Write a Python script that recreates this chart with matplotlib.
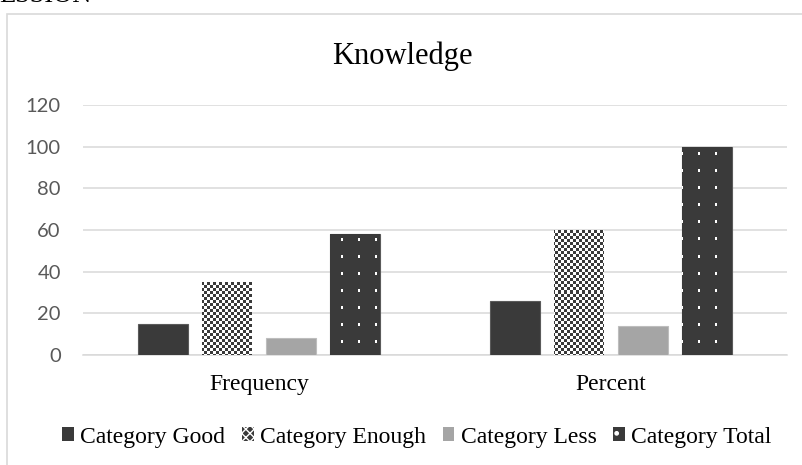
import numpy as np
import matplotlib
matplotlib.use("Agg")
import matplotlib.pyplot as plt
from matplotlib.patches import Rectangle

# ---- data ----
groups = ["Frequency", "Percent"]
series_names = ["Category Good", "Category Enough", "Category Less", "Category Total"]
good = [15, 26]
enough = [35, 60]
less = [8, 14]
total = [58, 100]
y_ticks = [0, 20, 40, 60, 80, 100, 120]

W, H, DPI = 803, 465, 100
DARK = "#3a3a3a"
LIGHT = "#a5a5a5"
GRID = "#d9d9d9"
SERIF = ["Liberation Serif", "DejaVu Serif"]

fig = plt.figure(figsize=(W / DPI, H / DPI), dpi=DPI)
fig.patch.set_facecolor("white")

# chart frame (runs off the right and bottom edges)
fig.patches.append(Rectangle((7 / W, -0.1), 1.2, 1.1 - 14 / H,
                             transform=fig.transFigure, fill=False,
                             edgecolor=GRID, linewidth=1.2))
# heading fragment above the chart
fig.text(-1 / W, 1 - 1.5 / H, "ESSION", family=SERIF, fontsize=19,
         ha="left", va="baseline", color="black")

ax = fig.add_axes([83 / W, 1 - 355 / H, 704 / W, 250 / H])
xlim = (-0.5, 1.5)
ylim = (0, 120)

x = np.arange(len(groups))
bw = 0.142
step = 0.182
offsets = [-1.5 * step, -0.5 * step, 0.5 * step, 1.5 * step]

bars_good = ax.bar(x + offsets[0], good, bw, color=DARK, edgecolor="#5a5a5a",
                   linewidth=0.8, zorder=3)
bars_enough = ax.bar(x + offsets[1], enough, bw, color="white", edgecolor="none",
                     linewidth=0, zorder=3)
bars_less = ax.bar(x + offsets[2], less, bw, color=LIGHT, edgecolor="#bdbdbd",
                   linewidth=0.8, zorder=3)
bars_total = ax.bar(x + offsets[3], total, bw, color=DARK, edgecolor="#5a5a5a",
                    linewidth=0.8, zorder=3)

ax.set_xlim(*xlim)
ax.set_ylim(*ylim)

dark_rgb = np.array(matplotlib.colors.to_rgb(DARK))
white_rgb = np.ones(3)


def checker(ax_abs, ay_abs):
    return ((ax_abs // 3) + (ay_abs // 3)) % 2 == 0


def dots(ax_abs, ay_abs):
    return ((ax_abs - 341) % 17 < 2) & ((ay_abs - 238) % 17 < 3)


def fill_pattern(bar, white_mask_fn):
    """Tile a pixel pattern inside a bar, anchored to figure pixels."""
    x0, y0 = bar.get_x(), bar.get_y()
    w, h = bar.get_width(), bar.get_height()
    px0, py0 = ax.transData.transform((x0, y0))
    px1, py1 = ax.transData.transform((x0 + w, y0 + h))
    nx = int(round(px1 - px0))
    ny = int(round(py1 - py0))
    left = int(round(px0))
    top = int(round(H - py1))
    jj, ii = np.meshgrid(np.arange(nx) + left, np.arange(ny) + top)
    mask = white_mask_fn(jj, ii)
    img = np.where(mask[..., None], white_rgb, dark_rgb)
    im = ax.imshow(img, extent=(x0, x0 + w, y0, y0 + h), origin="upper",
                   interpolation="nearest", aspect="auto", zorder=3.5)
    im.set_clip_path(bar)


for b in bars_enough:
    fill_pattern(b, checker)
for b in bars_total:
    fill_pattern(b, dots)

ax.set_xlim(*xlim)
ax.set_ylim(*ylim)
ax.set_aspect("auto")

# axes styling
ax.set_yticks(y_ticks)
ax.yaxis.grid(True, color=GRID, linewidth=1.1, zorder=0)
ax.set_axisbelow(True)
for s in ["top", "right", "left"]:
    ax.spines[s].set_visible(False)
ax.spines["bottom"].set_color(GRID)
ax.spines["bottom"].set_linewidth(1.1)
ax.tick_params(axis="y", length=0, pad=16, labelcolor="#595959", labelsize=14.5)
for lab in ax.get_yticklabels():
    lab.set_family(["Lato", "DejaVu Sans"])
ax.set_xticks(x)
ax.set_xticklabels(groups, family=SERIF, fontsize=17)
ax.tick_params(axis="x", length=0, pad=14)

fig.text(402 / W, 1 - 56 / H, "Knowledge", family=SERIF, fontsize=22,
         ha="center", va="center")

# legend
handles = [
    Rectangle((0, 0), 1, 1, facecolor=DARK, edgecolor=DARK, linewidth=0),
    Rectangle((0, 0), 1, 1, facecolor=DARK, edgecolor="white", hatch="xxxx",
              linewidth=0),
    Rectangle((0, 0), 1, 1, facecolor=LIGHT, edgecolor=LIGHT, linewidth=0),
    Rectangle((0, 0), 1, 1, facecolor=DARK, edgecolor="white", hatch=".",
              linewidth=0),
]
fig.legend(handles, series_names, loc="center", ncol=4,
           bbox_to_anchor=(417 / W, 1 - 437 / H), frameon=False,
           prop={"family": SERIF, "size": 17},
           handlelength=0.5, handleheight=0.5, handletextpad=0.27,
           columnspacing=0.7, borderpad=0, borderaxespad=0)

fig.savefig("out.png", dpi=DPI)
